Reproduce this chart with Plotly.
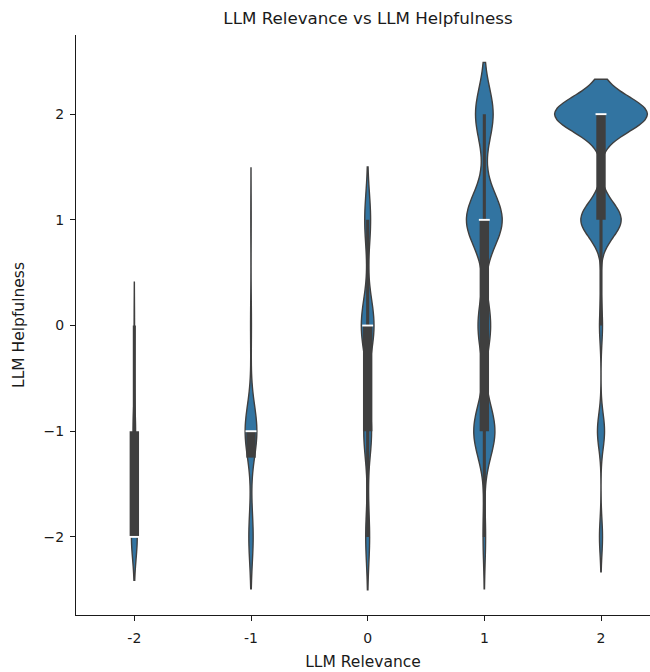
import numpy as np
import plotly.graph_objects as go

# ---------------- data ----------------
relevance_levels = [-2, -1, 0, 1, 2]          # x categories (LLM Relevance)
helpfulness_levels = [-2, -1, 0, 1, 2]        # y values (LLM Helpfulness)

# number of items with each helpfulness score (-2..2) per relevance level
counts_rel_m2 = [14, 6, 1, 0, 0]
counts_rel_m1 = [25, 68, 5, 2, 0]
counts_rel_0 = [12, 24, 39, 18, 0]
counts_rel_1 = [5, 42, 25, 71, 35]
counts_rel_2 = [6, 14, 6, 80, 184]

x_tick_labels = ["-2", "-1", "0", "1", "2"]
y_tick_labels = ["\u22122", "\u22121", "0", "1", "2"]

# ---------------- style ----------------
kde_bandwidths = [0.205, 0.245, 0.25, 0.245, 0.165]
violin_widths = [0.05, 0.1, 0.109, 0.306, 0.796]
FILL = "#3274a1"
EDGE = "#3f3f3f"
FONT = "DejaVu Sans"
TXT = "#1a1a1a"

all_counts = [counts_rel_m2, counts_rel_m1, counts_rel_0, counts_rel_1, counts_rel_2]

fig = go.Figure()

wx, wy, bx, by, mx, my = [], [], [], [], [], []
for rel, cnts, bw, w in zip(relevance_levels, all_counts, kde_bandwidths, violin_widths):
    vals = np.repeat(np.array(helpfulness_levels, dtype=float), cnts)
    fig.add_trace(go.Violin(
        x0=rel, y=vals, orientation="v", name=str(rel),
        bandwidth=bw, spanmode="soft", width=w, scalemode="width",
        scalegroup="g%d" % rel,
        fillcolor=FILL, line=dict(color=EDGE, width=1.4),
        points=False, box_visible=False, meanline_visible=False,
        opacity=1, showlegend=False, hoverinfo="skip",
    ))
    q1, med, q3 = np.percentile(vals, [25, 50, 75])
    iqr = q3 - q1
    lo = vals[vals >= q1 - 1.5 * iqr].min()
    hi = vals[vals <= q3 + 1.5 * iqr].max()
    wx += [rel, rel, None]
    wy += [lo, hi, None]
    bx += [rel, rel, None]
    by += [q1, q3, None]
    mx.append(rel)
    my.append(med)

fig.add_trace(go.Scatter(x=wx, y=wy, mode="lines", line=dict(color=EDGE, width=3.1),
                         showlegend=False, hoverinfo="skip"))
fig.add_trace(go.Scatter(x=bx, y=by, mode="lines", line=dict(color=EDGE, width=9.4),
                         showlegend=False, hoverinfo="skip"))
fig.add_trace(go.Scatter(x=mx, y=my, mode="markers",
                         marker=dict(symbol="line-ew", size=7.8, color="white",
                                     line=dict(color="white", width=1.9)),
                         showlegend=False, hoverinfo="skip"))

fig.update_layout(
    width=650, height=672,
    margin=dict(l=76, r=0, t=35, b=57),
    paper_bgcolor="white", plot_bgcolor="white",
    violinmode="overlay",
    font=dict(family=FONT, color=TXT, size=14),
    title=dict(text="LLM Relevance vs LLM Helpfulness", font=dict(size=16.7, family=FONT, color=TXT),
               x=368 / 650, xref="container", xanchor="center",
               y=1 - 18 / 672, yref="container", yanchor="middle"),
    showlegend=False,
)
fig.update_xaxes(
    range=[-2.5, 2.42], tickmode="array", tickvals=relevance_levels, ticktext=x_tick_labels,
    showline=True, linecolor=TXT, linewidth=1.2, ticks="outside", ticklen=5, tickwidth=1.1,
    tickcolor=TXT, showgrid=False, zeroline=False, tickfont=dict(size=14),
    ticklabelstandoff=5,
    title=dict(text="LLM Relevance", font=dict(size=15.5), standoff=11),
)
fig.update_yaxes(
    range=[-2.739, 2.749], tickmode="array", tickvals=helpfulness_levels, ticktext=y_tick_labels,
    showline=True, linecolor=TXT, linewidth=1.2, ticks="outside", ticklen=5, tickwidth=1.1,
    tickcolor=TXT, showgrid=False, zeroline=False, tickfont=dict(size=14),
    ticklabelstandoff=3,
    title=dict(text="LLM Helpfulness", font=dict(size=15.5), standoff=15),
)

fig.write_html("out.html")
